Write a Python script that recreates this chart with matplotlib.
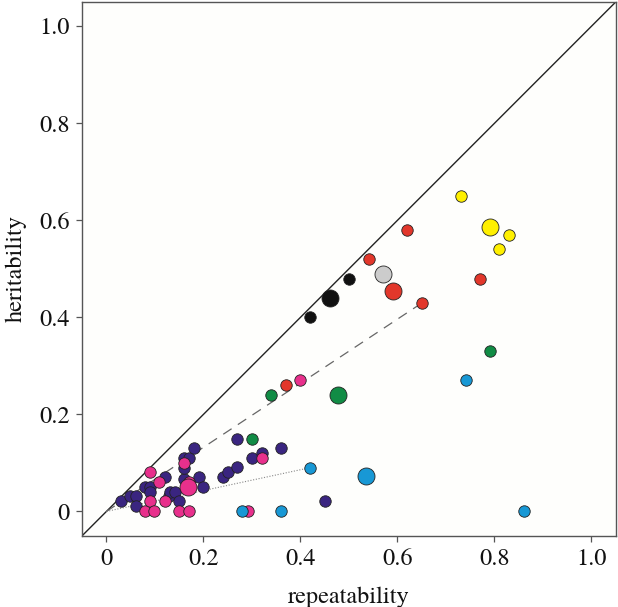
import matplotlib
matplotlib.use("Agg")
import matplotlib.pyplot as plt
import numpy as np

plt.rcParams['font.family'] = ['TeX Gyre Termes', 'STIXGeneral', 'DejaVu Serif']

# ---- data ----
purple_x = [0.029, 0.048, 0.060, 0.060, 0.079, 0.090, 0.089, 0.120, 0.129, 0.132, 0.142,
            0.149, 0.159, 0.160, 0.160, 0.170, 0.180, 0.190, 0.200, 0.240, 0.250, 0.270,
            0.270, 0.300, 0.320, 0.359, 0.450]
purple_y = [0.021, 0.031, 0.031, 0.012, 0.051, 0.051, 0.041, 0.071, 0.031, 0.041, 0.041,
            0.021, 0.067, 0.090, 0.111, 0.111, 0.130, 0.071, 0.051, 0.071, 0.081, 0.091,
            0.150, 0.111, 0.121, 0.130, 0.021]
pink_x = [0.080, 0.089, 0.089, 0.099, 0.109, 0.120, 0.149, 0.160, 0.170, 0.170, 0.292, 0.320, 0.400]
pink_y = [0.000, 0.081, 0.021, 0.000, 0.061, 0.021, 0.000, 0.100, 0.000, 0.061, 0.000, 0.111, 0.270]
pink_big_x = [0.168]
pink_big_y = [0.051]
blue_x = [0.280, 0.359, 0.419, 0.741, 0.861]
blue_y = [0.000, 0.000, 0.090, 0.270, 0.000]
blue_big_x = [0.535]
blue_big_y = [0.073]
green_x = [0.300, 0.340, 0.790]
green_y = [0.150, 0.240, 0.330]
green_big_x = [0.477]
green_big_y = [0.240]
red_x = [0.370, 0.541, 0.620, 0.651, 0.770]
red_y = [0.261, 0.520, 0.580, 0.430, 0.479]
red_big_x = [0.591]
red_big_y = [0.454]
black_x = [0.420, 0.501]
black_y = [0.401, 0.479]
black_big_x = [0.460]
black_big_y = [0.440]
grey_big_x = [0.570]
grey_big_y = [0.490]
yellow_x = [0.730, 0.810, 0.830]
yellow_y = [0.650, 0.540, 0.570]
yellow_big_x = [0.790]
yellow_big_y = [0.587]

dashed_x = [0.0, 0.651]
dashed_y = [0.0, 0.430]
dotted_x = [0.0, 0.419]
dotted_y = [0.0, 0.090]

xticks = [0, 0.2, 0.4, 0.6, 0.8, 1.0]
xticklabels = ['0', '0.2', '0.4', '0.6', '0.8', '1.0']

# ---- plot ----
fig = plt.figure(figsize=(6.18, 6.07), dpi=100)
ax = fig.add_axes([0.133, 0.1175, 0.8633, 0.8792])
ax.set_facecolor('#fefefc')

lim = (-0.05, 1.05)
ax.plot(lim, lim, color='#222222', lw=1.0, zorder=1)
ax.plot(dashed_x, dashed_y, color='#666666', lw=0.9, dashes=(8, 6), zorder=1)
ax.plot(dotted_x, dotted_y, color='#888888', lw=0.8, dashes=(1, 1.5), zorder=1)

S, B = 68, 150
ec, lw = '#222222', 0.6
colors = dict(purple='#3a2580', pink='#e8308c', blue='#1898d5', green='#118c45',
              red='#e2372b', black='#111111', grey='#cccccc', yellow='#fff000')

def sc(x, y, c, s):
    ax.scatter(x, y, s=s, c=c, edgecolors=ec, linewidths=lw, zorder=3)

sc(purple_x, purple_y, colors['purple'], S)
sc(pink_x, pink_y, colors['pink'], S)
sc(pink_big_x, pink_big_y, colors['pink'], B)
sc(blue_x, blue_y, colors['blue'], S)
sc(blue_big_x, blue_big_y, colors['blue'], B)
sc(green_x, green_y, colors['green'], S)
sc(green_big_x, green_big_y, colors['green'], B)
sc(red_x, red_y, colors['red'], S)
sc(red_big_x, red_big_y, colors['red'], B)
sc(black_x, black_y, colors['black'], S)
sc(black_big_x, black_big_y, colors['black'], B)
sc(grey_big_x, grey_big_y, colors['grey'], B)
sc(yellow_x, yellow_y, colors['yellow'], S)
sc(yellow_big_x, yellow_big_y, colors['yellow'], B)

ax.set_xlim(lim)
ax.set_ylim(lim)
ax.set_xticks(xticks)
ax.set_xticklabels(xticklabels)
ax.set_yticks(xticks)
ax.set_yticklabels(xticklabels)
for s in ax.spines.values():
    s.set_color('#555555')
    s.set_linewidth(1.0)
ax.tick_params(direction='out', length=4, width=0.9, color='#555555',
               labelsize=17.5, pad=5, labelcolor='#111111')
ax.set_xlabel('repeatability', fontsize=17.5, labelpad=12, color='#111111')
ax.set_ylabel('heritability', fontsize=17.5, labelpad=9, color='#111111')

fig.savefig('out.png', dpi=100)
